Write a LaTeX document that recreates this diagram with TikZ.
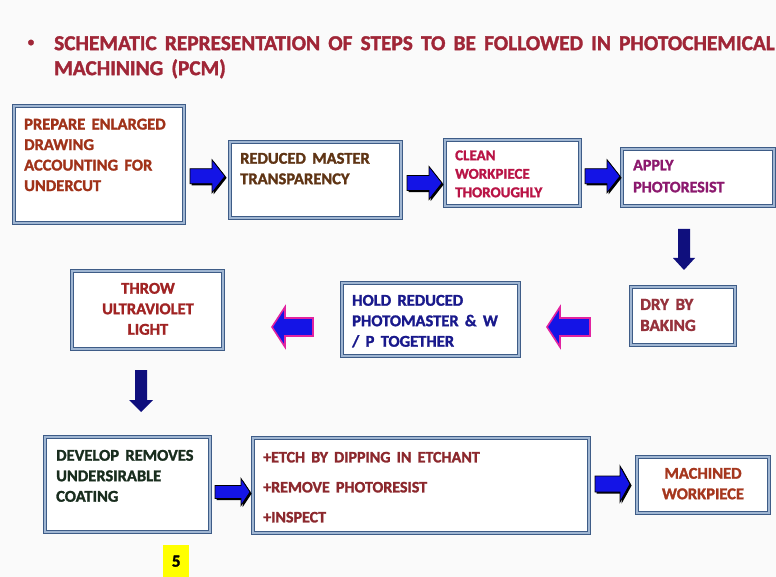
\documentclass[tikz,border=0pt]{standalone}
\usepackage{fontspec}
\setmainfont{Carlito}[WordSpace=1.7, BoldFeatures={FakeBold=1.6}]
\usetikzlibrary{calc}

% palette
\definecolor{pagebg}{RGB}{250,250,250}
\definecolor{boxdark}{RGB}{62,92,135}
\definecolor{boxlight}{RGB}{160,182,210}
\definecolor{titlered}{RGB}{160,38,55}
\definecolor{arrowblue}{RGB}{20,20,230}
\definecolor{arrownavy}{RGB}{15,15,125}
\definecolor{arrowpink}{RGB}{225,35,160}
\definecolor{tone1}{RGB}{160,50,25}
\definecolor{tone2}{RGB}{95,52,20}
\definecolor{tone3}{RGB}{185,20,70}
\definecolor{tone4}{RGB}{140,25,110}
\definecolor{tone5}{RGB}{150,50,60}
\definecolor{tone6}{RGB}{25,25,140}
\definecolor{tone7}{RGB}{160,35,35}
\definecolor{tone8}{RGB}{25,45,30}
\definecolor{tone9}{RGB}{140,40,45}
\definecolor{tone10}{RGB}{165,55,30}
\definecolor{pagemark}{RGB}{255,255,0}

% outline of a block arrow pointing along +x, centred on the origin:
% total length / shaft width / head width / head length
\newcommand\blockpoly[4]{(-#1/2,-#2/2) -- (#1/2-#4,-#2/2) -- (#1/2-#4,-#3/2) -- (#1/2,0)
  -- (#1/2-#4,#3/2) -- (#1/2-#4,#2/2) -- (-#1/2,#2/2) -- cycle}

\tikzset{
  stepbox/.style={draw=boxdark, double=boxlight, line width=1.3pt, double distance=1.2pt,
    fill=white, anchor=north west, inner sep=0pt, outer sep=0pt},
  steptext/.style={anchor=north west, inner sep=0pt, align=left,
    font=\bfseries\fontsize{16.5}{20.5}\selectfont},
  pics/shadedarrow/.style args={#1/#2/#3/#4}{code={
    \begin{scope}[shift={(1.6,1.6)}]
      \fill[black] \blockpoly{#1}{#2}{#3}{#4};
    \end{scope}
    \filldraw[fill=arrowblue, draw=black, line width=0.8pt, line join=miter] \blockpoly{#1}{#2}{#3}{#4};
  }},
  pics/pinkarrow/.style args={#1/#2/#3/#4}{code={
    \filldraw[fill=arrowblue, draw=arrowpink, line width=1.6pt, line join=miter] \blockpoly{#1}{#2}{#3}{#4};
  }},
  pics/navyarrow/.style args={#1/#2/#3/#4}{code={
    \fill[arrownavy] \blockpoly{#1}{#2}{#3}{#4};
  }},
}

\begin{document}
\begin{tikzpicture}[x=1pt, y=-1pt]
  \fill[pagebg] (0,0) rectangle (776,577);
  \useasboundingbox (0,0) rectangle (776,577);

  % heading
  \node[text=titlered, font=\bfseries\fontsize{13}{15}\selectfont] (bullet) at (31,43) {•};
  \node[anchor=north west, inner sep=0pt, align=left, text=titlered,
        font=\bfseries\fontsize{21.3}{25}\selectfont] (title) at (54,36)
    {SCHEMATIC REPRESENTATION OF STEPS TO BE FOLLOWED IN PHOTOCHEMICAL\\MACHINING (PCM)};

  % process steps
  \node[stepbox, minimum width=170, minimum height=117] (b1) at (14,106) {};
  \node[stepbox, minimum width=171, minimum height=76]  (b2) at (230,142) {};
  \node[stepbox, minimum width=135, minimum height=66]  (b3) at (445,140) {};
  \node[stepbox, minimum width=152, minimum height=57]  (b4) at (622,149) {};
  \node[stepbox, minimum width=104, minimum height=58]  (b5) at (631,287) {};
  \node[stepbox, minimum width=177, minimum height=73]  (b6) at (342,283) {};
  \node[stepbox, minimum width=151, minimum height=78]  (b7) at (72,271) {};
  \node[stepbox, minimum width=165, minimum height=95]  (b8) at (45,437) {};
  \node[stepbox, minimum width=336, minimum height=95]  (b9) at (253,438) {};
  \node[stepbox, minimum width=132, minimum height=56]  (b10) at (637,457) {};

  \node[steptext, text=tone1] (t1) at ([shift={(10,12.5)}]b1.north west)
    {PREPARE ENLARGED\\DRAWING\\ACCOUNTING FOR\\UNDERCUT};
  \node[steptext, text=tone2] (t2) at ([shift={(10,10.7)}]b2.north west)
    {REDUCED MASTER\\TRANSPARENCY};
  \node[steptext, text=tone3, font=\bfseries\fontsize{15}{18.5}\selectfont] (t3)
    at ([shift={(10,10.2)}]b3.north west) {CLEAN\\WORKPIECE\\THOROUGHLY};
  \node[steptext, text=tone4, font=\bfseries\fontsize{16}{22}\selectfont] (t4)
    at ([shift={(11,10.7)}]b4.north west) {APPLY\\PHOTORESIST};
  \node[steptext, text=tone5, font=\bfseries\fontsize{17}{21}\selectfont] (t5)
    at ([shift={(9,11.7)}]b5.north west) {DRY BY\\BAKING};
  \node[steptext, text=tone6] (t6) at ([shift={(10,11.7)}]b6.north west)
    {HOLD REDUCED\\PHOTOMASTER \& W\\/ P TOGETHER};
  \node[steptext, text=tone7, anchor=north, align=center] (t7)
    at ([shift={(0.5,11.7)}]b7.north) {THROW\\ULTRAVIOLET\\LIGHT};
  \node[steptext, text=tone8] (t8) at ([shift={(11,12.7)}]b8.north west)
    {DEVELOP REMOVES\\UNDERSIRABLE\\COATING};
  \node[steptext, text=tone9, font=\bfseries\fontsize{16}{30}\selectfont] (t9)
    at ([shift={(10,13.7)}]b9.north west)
    {+ETCH BY DIPPING IN ETCHANT\\+REMOVE PHOTORESIST\\+INSPECT};
  \node[steptext, text=tone10, anchor=north, align=center] (t10)
    at ([shift={(0,10.7)}]b10.north) {MACHINED\\WORKPIECE};

  % block arrows between the steps
  \pic at ($(b1.east)!0.5!(b2.west)+(0.5,4)$) {shadedarrow=35/15/33/13};
  \pic at ($(b2.east)!0.5!(b3.west)+(1.5,6.5)$) {shadedarrow=35/15/33/13};
  \pic at ($(b3.east)!0.5!(b4.west)+(1.5,1)$) {shadedarrow=35/15/33/13};
  \pic[rotate=-90] at ($(b4.south)!0.5!(b5.north)+(-6.5,3)$) {navyarrow=41/12/22/12};
  \pic[rotate=180] at ($(b5.west)!0.5!(b6.east)+(-6.5,9.25)$) {pinkarrow=43/18/40/13};
  \pic[rotate=180] at ($(b6.west)!0.5!(b7.east)+(10,12.25)$) {pinkarrow=41/18/40/13};
  \pic[rotate=-90] at ($(b7.south)!0.5!(b8.north)+(3.5,-2)$) {navyarrow=42/12/24/12};
  \pic at ($(b8.east)!0.5!(b9.west)+(1,7)$) {shadedarrow=35/13/27/9};
  \pic at ($(b9.east)!0.5!(b10.west)+(-0.5,-1.25)$) {shadedarrow=35/16/36/10};

  % page number
  \node[fill=pagemark, anchor=north west, inner sep=0pt, minimum width=26, minimum height=32,
        font=\bfseries\fontsize{17}{20}\selectfont] (pagenum) at (163,545) {5};
\end{tikzpicture}
\end{document}
